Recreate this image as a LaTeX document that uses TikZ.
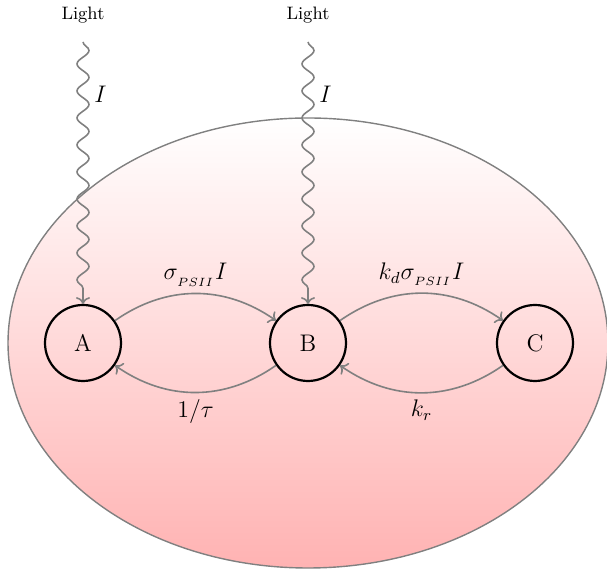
\documentclass[tikz,border=0pt]{standalone}
\usetikzlibrary{decorations.pathmorphing,arrows.meta}
\begin{document}
\begin{tikzpicture}[x=0.5pt,y=-0.5pt,
  state/.style={circle,draw=black,line width=1.1pt,minimum size=38pt,inner sep=0pt,font=\large},
  rate/.style={->,draw=gray,line width=0.8pt},
  photon/.style={->,draw=gray,line width=0.8pt,decorate,
    decoration={snake,amplitude=3pt,segment length=13.5pt,post length=6pt}},
  lightlbl/.style={font=\small}]
  \useasboundingbox (0,0) rectangle (607,571);
  % cell body
  \shade[top color=white,bottom color=red!30,draw=gray,line width=0.7pt]
    (308,343) ellipse [x radius=300,y radius=225];
  % states
  \node[state] (A) at (83,343) {A};
  \node[state] (B) at (308,343) {B};
  \node[state] (C) at (535,343) {C};
  % light sources
  \node[lightlbl] (L1) at (83,15) {Light};
  \node[lightlbl] (L2) at (308,15) {Light};
  \coordinate (s1) at (83,42);
  \coordinate (s2) at (308,42);
  \draw[photon] (s1) -- (A.north) node[pos=0.2,right=2pt,font=\large] {$I$};
  \draw[photon] (s2) -- (B.north) node[pos=0.2,right=2pt,font=\large] {$I$};
  % transitions
  \draw[rate] (A) to[bend left=35] node[above,font=\large] {$\sigma_{_{PSII}}I$} (B);
  \draw[rate] (B) to[bend left=35] node[below,font=\large] {$1/\tau$} (A);
  \draw[rate] (B) to[bend left=35] node[above,font=\large] {$k_d\sigma_{_{PSII}}I$} (C);
  \draw[rate] (C) to[bend left=35] node[below,font=\large] {$k_r$} (B);
\end{tikzpicture}
\end{document}
